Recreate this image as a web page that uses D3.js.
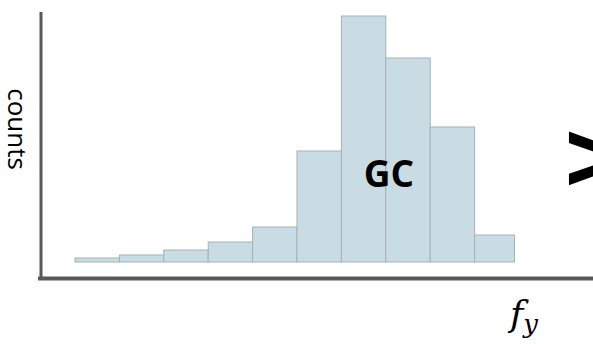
<!DOCTYPE html>
<html>
<head>
<meta charset="utf-8">
<script src="https://cdn.jsdelivr.net/npm/d3@7"></script>
<style>
  body { margin: 0; background: #fff; }
  svg { display: block; }
</style>
</head>
<body>
<div id="hist"></div>
<script>
// histogram data
const binEdges = [0, 1, 2, 3, 4, 5, 6, 7, 8, 9, 9.9];
const counts = [4, 7, 12, 20, 35, 111, 246, 204, 135, 27];
const xLabel = "f";
const xSub = "y";
const yLabel = "counts";
const groupLabel = "GC";

const W = 593, H = 344;

const svg = d3.select("#hist")
  .append("svg")
    .attr("width", W)
    .attr("height", H);

// scales
const x = d3.scaleLinear()
  .domain([0, 10])
  .range([75, 519]);

const y = d3.scaleLinear()
  .domain([0, 250])
  .range([262, 12]);

const bins = counts.map(function(c, i) {
  return {x0: binEdges[i], x1: binEdges[i + 1], n: c};
});

// bars
svg.selectAll("rect.bar")
  .data(bins)
  .join("rect")
    .attr("class", "bar")
    .attr("x", d => x(d.x0))
    .attr("y", d => y(d.n))
    .attr("width", d => x(d.x1) - x(d.x0))
    .attr("height", d => y(0) - y(d.n))
    .style("fill", "#c9dce3")
    .style("stroke", "#a3b2b8")
    .style("stroke-width", 1);

// axes (plain lines, no ticks)
svg.append("line")
  .attr("x1", 41).attr("x2", 41)
  .attr("y1", y.range()[1]).attr("y2", 280)
  .attr("stroke", "#595959")
  .attr("stroke-width", 3);

svg.append("line")
  .attr("x1", 38).attr("x2", W)
  .attr("y1", 278.5).attr("y2", 278.5)
  .attr("stroke", "#595959")
  .attr("stroke-width", 4);

// y label, rotated clockwise
svg.append("text")
  .attr("transform", "translate(8,129) rotate(90)")
  .attr("text-anchor", "middle")
  .style("font-family", "'Open Sans', sans-serif")
  .style("font-size", "26px")
  .style("fill", "#000")
  .text(yLabel);

// group label
svg.append("text")
  .attr("x", 389)
  .attr("y", 187)
  .attr("text-anchor", "middle")
  .style("font-family", "'Open Sans', sans-serif")
  .style("font-weight", "bold")
  .style("font-size", "37px")
  .style("fill", "#000")
  .text(groupLabel);

// x label f_y
const xl = svg.append("text")
  .attr("x", 510)
  .attr("y", 326)
  .style("font-family", "'DejaVu Serif', serif")
  .style("font-style", "italic")
  .style("fill", "#000");
xl.append("tspan").style("font-size", "36px").text(xLabel);
xl.append("tspan").attr("dy", 7).style("font-size", "26px").text(xSub);

// comparison sign, cut by the right edge as in the source
svg.append("text")
  .attr("x", 559)
  .attr("y", 188)
  .style("font-family", "'DejaVu Sans', sans-serif")
  .style("font-weight", "bold")
  .style("font-size", "94px")
  .style("fill", "#000")
  .text(">");
</script>
</body>
</html>
